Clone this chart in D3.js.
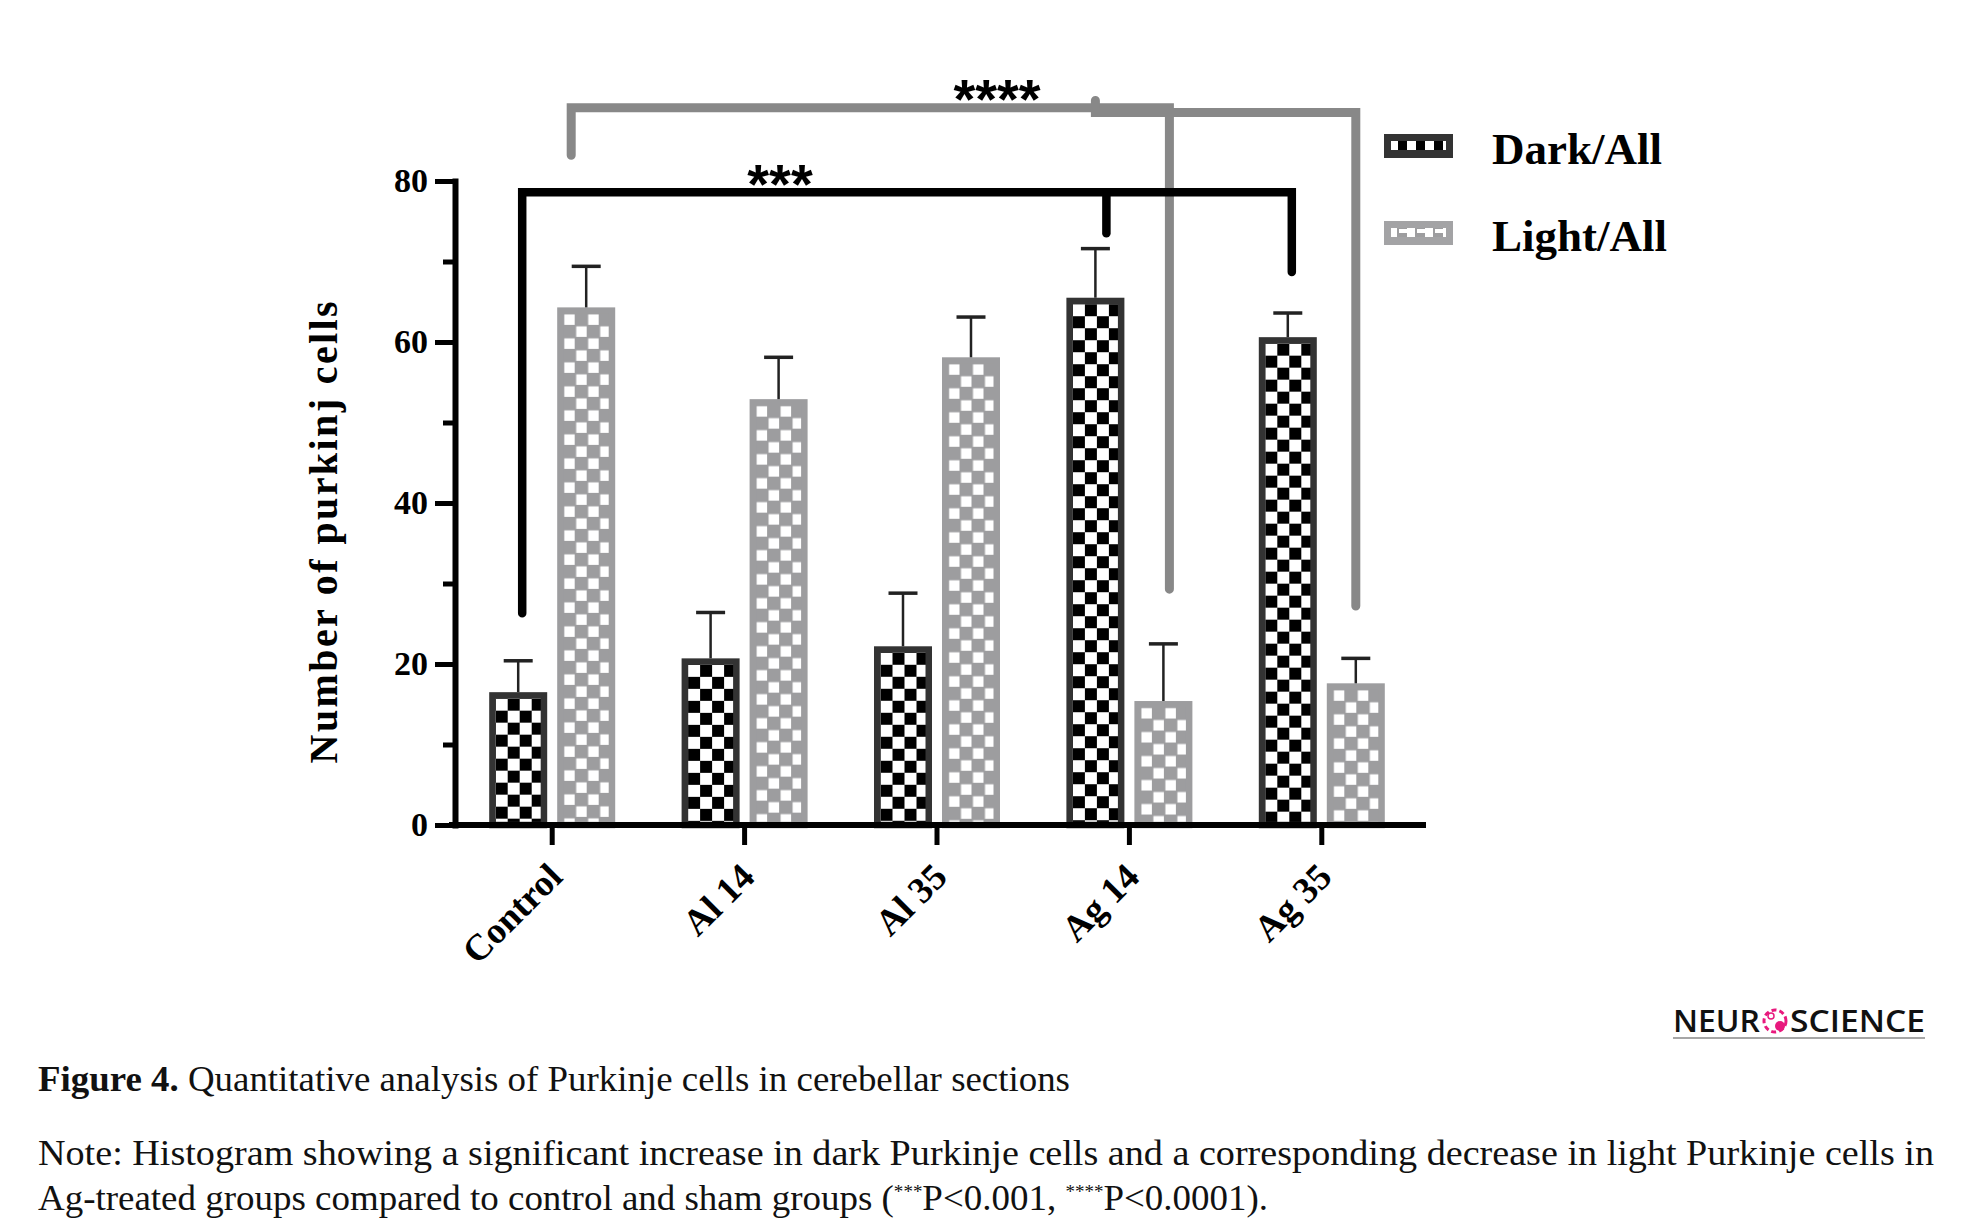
<!DOCTYPE html>
<html>
<head>
<meta charset="utf-8">
<script src="https://cdn.jsdelivr.net/npm/d3@7"></script>
<style>
  body { margin: 0; background: #fff; }
  svg { display: block; }
</style>
</head>
<body>
<script>
// ---- data ----
const groups = ["Control", "Al 14", "Al 35", "Ag 14", "Ag 35"];
const seriesKeys = ["dark", "light"];
const seriesNames = ["Dark/All", "Light/All"];
const darkMeans = [16.5, 20.7, 22.2, 65.5, 60.6];
const darkSem = [3.9, 5.7, 6.6, 6.1, 3.0];
const lightMeans = [64.3, 52.9, 58.1, 15.4, 17.6];
const lightSem = [5.1, 5.2, 5.0, 7.1, 3.1];
const yMajorTicks = [0, 20, 40, 60, 80];
const yMinorTicks = [10, 30, 50, 70];

// significance brackets: [group, series, value, nudge px]
const blackBrackets = [
  [["Control", "dark", 26.3, 4], ["Control", "dark", 78.6, 4], ["Ag 35", "dark", 78.6, 4], ["Ag 35", "dark", 68.7, 4]],
  [["Ag 14", "dark", 78.6, 11], ["Ag 14", "dark", 73.5, 11]]
];
const grayBrackets = [
  [["Control", "light", 83.2, -15], ["Control", "light", 89.1, -15], ["Ag 14", "light", 89.1, 6], ["Ag 14", "light", 29.3, 6]],
  [["Ag 14", "dark", 90.0, 0], ["Ag 14", "dark", 88.5, 0], ["Ag 35", "light", 88.5, 0], ["Ag 35", "light", 27.2, 0]]
];
const stars = [
  {label: "***", key: "dark", level: 78.6},
  {label: "****", key: "light", level: 89.1}
];

// ---- layout ----
const W = 1971, H = 1227;
const serif = "'Liberation Serif', 'Times New Roman', serif";
const sans = "'Liberation Sans', Arial, sans-serif";
const lightGray = "#9d9d9f";
const bracketGray = "#888888";
const border = 6.5;

const svg = d3.select("body").append("svg")
    .attr("width", W)
    .attr("height", H)
    .style("background", "#fff");
const defs = svg.append("defs");

const y = d3.scaleLinear().domain([0, 80]).range([825, 181]);
const x0 = d3.scaleBand().domain(groups).range([456, 1418]);
const half = x0.bandwidth() / 2;
const x1 = d3.scaleBand().domain(seriesKeys).range([half - 63, half + 63]).paddingInner(0.147);
const cx = (g, k) => x0(g) + x1(k) + x1.bandwidth() / 2;

const bars = groups.flatMap((g, i) => [
  {group: g, key: "dark", value: darkMeans[i], sem: darkSem[i]},
  {group: g, key: "light", value: lightMeans[i], sem: lightSem[i]}
]);
bars.forEach((d, i) => {
  d.x = x0(d.group) + x1(d.key);
  d.w = x1.bandwidth();
  d.top = y(d.value);
  d.id = "bar-pat-" + i;
});

// one checker pattern per bar, anchored at the bar's inner corner
const pat = defs.selectAll("pattern.bar").data(bars).join("pattern")
    .attr("class", "bar")
    .attr("id", d => d.id)
    .attr("patternUnits", "userSpaceOnUse")
    .attr("x", d => d.x + border)
    .attr("y", d => d.top + border)
    .attr("width", 24)
    .attr("height", 24);
pat.append("rect")
    .attr("width", 24).attr("height", 24)
    .attr("fill", d => d.key === "dark" ? "#fff" : lightGray);
pat.each(function(d) {
  const p = d3.select(this);
  if (d.key === "dark") {
    p.append("rect").attr("x", 12).attr("y", 0).attr("width", 12).attr("height", 12).attr("fill", "#000");
    p.append("rect").attr("x", 0).attr("y", 12).attr("width", 12).attr("height", 12).attr("fill", "#000");
  } else {
    p.append("rect").attr("x", 0.5).attr("y", 0.5).attr("width", 10.5).attr("height", 10.5).attr("fill", "#fff");
    p.append("rect").attr("x", 12.5).attr("y", 12.5).attr("width", 10.5).attr("height", 10.5).attr("fill", "#fff");
  }
});

// bars
svg.append("g").selectAll("rect").data(bars).join("rect")
    .attr("x", d => d.x + border / 2)
    .attr("y", d => d.top + border / 2)
    .attr("width", d => d.w - border)
    .attr("height", d => y(0) - d.top - border / 2)
    .attr("fill", d => `url(#${d.id})`)
    .attr("stroke", d => d.key === "dark" ? "#333" : lightGray)
    .attr("stroke-width", border);

// error bars (upper only)
const err = svg.append("g").attr("stroke", "#222");
err.selectAll("line.stem").data(bars).join("line")
    .attr("class", "stem")
    .attr("x1", d => d.x + d.w / 2).attr("x2", d => d.x + d.w / 2)
    .attr("y1", d => d.top).attr("y2", d => y(d.value + d.sem))
    .attr("stroke-width", 2.5);
err.selectAll("line.cap").data(bars).join("line")
    .attr("class", "cap")
    .attr("x1", d => d.x + d.w / 2 - 14.5).attr("x2", d => d.x + d.w / 2 + 14.5)
    .attr("y1", d => y(d.value + d.sem)).attr("y2", d => y(d.value + d.sem))
    .attr("stroke-width", 3.5);

// axes
const yAxis = svg.append("g")
    .attr("transform", `translate(${x0.range()[0] - 1},0)`)
    .call(d3.axisLeft(y).tickValues(yMajorTicks).tickSize(20).tickSizeOuter(0).tickPadding(7).tickFormat(d3.format("d")));
yAxis.append("g")
    .call(d3.axisLeft(y).tickValues(yMinorTicks).tickSize(12).tickFormat(""))
    .select(".domain").remove();
yAxis.selectAll(".tick line").attr("stroke", "#000").attr("stroke-width", 5);
yAxis.select(".domain").attr("stroke", "#000").attr("stroke-width", 6).attr("stroke-linecap", "square");
yAxis.selectAll(".tick text")
    .attr("fill", "#000")
    .style("font-family", serif)
    .style("font-weight", "bold")
    .style("font-size", "34px");

const xAxis = svg.append("g")
    .attr("transform", `translate(0,${y(0)})`)
    .call(d3.axisBottom(x0).tickSize(20).tickSizeOuter(0));
xAxis.select(".domain").attr("stroke", "#000").attr("stroke-width", 6).attr("stroke-linecap", "square")
    .attr("d", `M${x0.range()[0] - 4},0H${x0.range()[1] + 5}`);
xAxis.selectAll(".tick line").attr("stroke", "#000").attr("stroke-width", 5);
xAxis.selectAll(".tick text")
    .attr("y", 0).attr("dy", null)
    .attr("text-anchor", "end")
    .attr("transform", "translate(12,54) rotate(-45)")
    .attr("fill", "#000")
    .style("font-family", serif)
    .style("font-weight", "bold")
    .style("font-size", "37px");

// y axis title
svg.append("text")
    .attr("transform", `translate(337,${y(36.5)}) rotate(-90)`)
    .attr("text-anchor", "middle")
    .style("font-family", serif)
    .style("font-weight", "bold")
    .style("font-size", "40px")
    .style("letter-spacing", "2.4px")
    .text("Number of purkinj cells");

// significance brackets
const bracketLine = d3.line().x(p => cx(p[0], p[1]) + p[3]).y(p => y(p[2]));
svg.append("g").selectAll("path").data(grayBrackets).join("path")
    .attr("d", bracketLine)
    .attr("fill", "none")
    .attr("stroke", bracketGray)
    .attr("stroke-width", 9)
    .attr("stroke-linecap", "round");
svg.append("g").selectAll("path").data(blackBrackets).join("path")
    .attr("d", bracketLine)
    .attr("fill", "none")
    .attr("stroke", "#000")
    .attr("stroke-width", 8.5)
    .attr("stroke-linecap", "round");

svg.append("g").selectAll("text").data(stars).join("text")
    .attr("x", d => d.key === "dark" ? 780 : 997)
    .attr("y", d => y(d.level) + 10.5)
    .attr("text-anchor", "middle")
    .style("font-family", sans)
    .style("font-weight", "bold")
    .style("font-size", "56px")
    .text(d => d.label);

// legend
const legPatDark = defs.append("pattern").attr("id", "leg-dark")
    .attr("patternUnits", "userSpaceOnUse").attr("x", 1391).attr("y", 141).attr("width", 18).attr("height", 9);
legPatDark.append("rect").attr("width", 18).attr("height", 9).attr("fill", "#fff");
legPatDark.append("rect").attr("x", 9).attr("width", 9).attr("height", 9).attr("fill", "#000");
const legPatLight = defs.append("pattern").attr("id", "leg-light")
    .attr("patternUnits", "userSpaceOnUse").attr("x", 1391).attr("y", 228).attr("width", 18).attr("height", 9);
legPatLight.append("rect").attr("width", 18).attr("height", 9).attr("fill", lightGray);
legPatLight.append("rect").attr("width", 8).attr("height", 9).attr("fill", "#fff");
legPatLight.append("rect").attr("x", 10).attr("y", 5).attr("width", 8).attr("height", 4).attr("fill", "#fff");

const legend = svg.append("g").selectAll("g").data(seriesNames).join("g")
    .attr("transform", (d, i) => `translate(1384,${134 + i * 87})`);
legend.append("rect")
    .attr("width", 69).attr("height", 24)
    .attr("fill", (d, i) => i === 0 ? "#333" : "#a3a3a5");
legend.append("rect")
    .attr("x", 7).attr("y", 7).attr("width", 55).attr("height", 9)
    .attr("fill", (d, i) => i === 0 ? "url(#leg-dark)" : "url(#leg-light)");
legend.append("text")
    .attr("x", 108).attr("y", 30)
    .style("font-family", serif)
    .style("font-weight", "bold")
    .style("font-size", "45px")
    .text(d => d);

// journal logo
const logo = svg.append("g").attr("fill", "#111")
    .style("font-family", "'Open Sans', 'DejaVu Sans', sans-serif")
    .style("font-weight", "600")
    .style("font-size", "31px");
logo.append("text").attr("x", 1673).attr("y", 1032)
    .attr("textLength", 87).attr("lengthAdjust", "spacingAndGlyphs").text("NEUR");
logo.append("text").attr("x", 1790).attr("y", 1032)
    .attr("textLength", 135).attr("lengthAdjust", "spacingAndGlyphs").text("SCIENCE");
const pink = "#e8197d";
logo.append("circle").attr("cx", 1775).attr("cy", 1021).attr("r", 11)
    .attr("fill", "none").attr("stroke", pink).attr("stroke-width", 3).attr("stroke-dasharray", "5 3");
logo.append("circle").attr("cx", 1780).attr("cy", 1026).attr("r", 5).attr("fill", pink);
logo.append("circle").attr("cx", 1771).attr("cy", 1016).attr("r", 3)
    .attr("fill", "none").attr("stroke", pink).attr("stroke-width", 1.5);
svg.append("line").attr("x1", 1673).attr("x2", 1925).attr("y1", 1038).attr("y2", 1038)
    .attr("stroke", "#888").attr("stroke-width", 1.5);

// caption
const cap = svg.append("g").style("font-family", serif).style("font-size", "35px").attr("fill", "#111");
const c1 = cap.append("text").attr("x", 38).attr("y", 1091)
    .attr("textLength", 1032).attr("lengthAdjust", "spacingAndGlyphs");
c1.append("tspan").style("font-weight", "bold").text("Figure 4.");
c1.append("tspan").text(" Quantitative analysis of Purkinje cells in cerebellar sections");
cap.append("text").attr("x", 38).attr("y", 1165)
    .attr("textLength", 1896).attr("lengthAdjust", "spacingAndGlyphs")
    .text("Note: Histogram showing a significant increase in dark Purkinje cells and a corresponding decrease in light Purkinje cells in");
const c3 = cap.append("text").attr("x", 38).attr("y", 1210)
    .attr("textLength", 1230).attr("lengthAdjust", "spacingAndGlyphs");
c3.append("tspan").text("Ag-treated groups compared to control and sham groups (");
c3.append("tspan").attr("dy", -12).style("font-size", "18px").text("***");
c3.append("tspan").attr("dy", 12).text("P<0.001, ");
c3.append("tspan").attr("dy", -12).style("font-size", "18px").text("****");
c3.append("tspan").attr("dy", 12).text("P<0.0001).");
</script>
</body>
</html>
